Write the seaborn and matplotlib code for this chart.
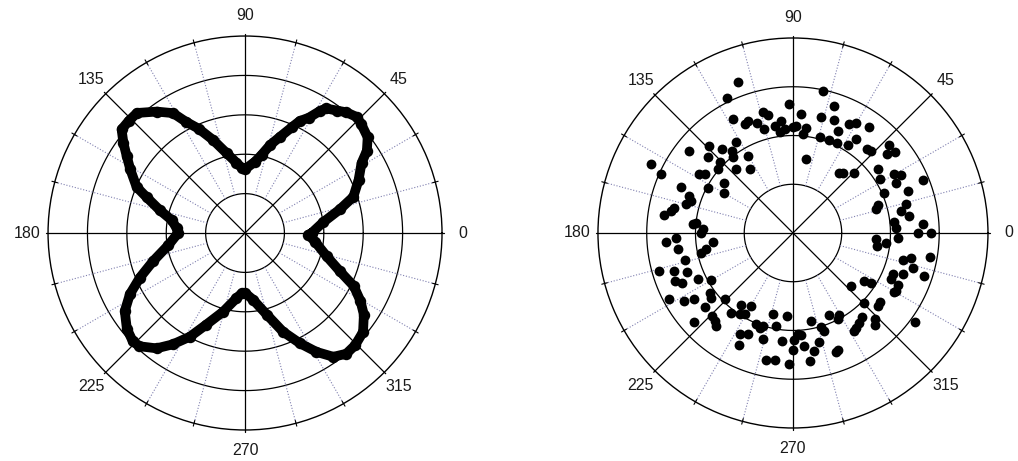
import numpy as np
import matplotlib
matplotlib.use("Agg")
import matplotlib.pyplot as plt
import seaborn as sns

# --- left panel: four-petal curve (angle in degrees, radius with rings at 1..5) ---
curve_deg = [
    0, 8, 14, 18.5, 25, 31, 34, 38, 43, 46, 50, 53, 57, 58.5, 61, 64, 66, 70, 74, 78, 82, 90,
    93, 97, 103, 109, 114, 118, 121, 126, 132, 136, 140, 143.5, 147, 151, 157, 160, 165, 170, 176, 180,
    189, 197, 203, 208, 213, 219, 224, 227, 232.5, 237, 242, 247, 254.5, 262.5, 267,
    270, 277, 285, 291, 296.5, 301, 305.5, 310, 314.5, 320, 325.5, 329.5, 334, 338, 344, 353, 358.5,
]
curve_r = [
    1.69, 2.01, 2.48, 2.90, 3.18, 3.45, 3.73, 3.95, 4.04, 4.09, 4.00, 3.89, 3.77, 3.63, 3.35, 3.16, 2.95, 2.60, 2.33, 2.03, 1.83, 1.62,
    1.66, 1.80, 2.08, 2.50, 2.90, 3.20, 3.55, 3.81, 4.10, 4.10, 4.09, 3.84, 3.58, 3.33, 2.99, 2.66, 2.24, 1.89, 1.74, 1.70,
    1.97, 2.44, 2.90, 3.31, 3.64, 3.86, 3.96, 3.93, 3.69, 3.37, 2.98, 2.53, 2.07, 1.67, 1.53,
    1.52, 1.71, 2.15, 2.68, 3.13, 3.52, 3.86, 4.00, 3.99, 3.91, 3.66, 3.40, 3.07, 2.60, 2.16, 1.79, 1.61,
]
curve_rings = [1, 2, 3, 4, 5]

# --- right panel: scattered points, x/y offsets from the pole (outer ring = 584) ---
dots_x = [
    # upper left
    -165, -197, -12, -90, -75, -180, -135, -145, -107, -88, -55, -35, -40, -25, 0,
    -170, -252, -312, -212, -182, -180, -255, -135, -220, -225, -425, -395, -280, -262, -172,
    -130, -208, -207, -255, -335, -310, -305, -320, -355, -365, -385, -300, -290, -270, -275,
    # upper right
    89, 124, 24, 84, 124, 9, 39, 29, 169, 189, 229, 136, 82, 109, 132, 189, 164, 221, 234, 289,
    282, 306, 39, 139, 149, 184, 256, 262, 302, 324, 309, 389, 274, 344, 339, 324, 346, 254, 249, 304,
    309, 389,
    # lower right
    314, 374, 414, 249, 252, 279, 409, 329, 354, 359, 329, 299, 294, 392, 212, 234, 174, 314, 309, 302,
    262, 254, 214, 364, 206, 199, 189, 184, 246, 246, 109, 139, 134, 54, 84, 94, 14, 24, 4, 79,
    34, -1, 62, 52, 134, 129, -13,
    # lower left
    -380, -350, -345, -240, -260, -275, -322, -400, -355, -352, -332, -318, -285, -245, -248, -245,
    -372, -325, -295, -262, -205, -185, -155, -125, -160, -145, -242, -235, -232, -295, -60, -17,
    -110, -100, -90, -50, -160, -135, -90, -162, -32, -80, -55,
]
dots_y = [
    # upper left
    451, 404, 386, 361, 353, 341, 336, 326, 329, 311, 321, 336, 301, 311, 316,
    273, 261, 246, 251, 246, 229, 229, 231, 213, 191, 208, 176, 176, 176, 193,
    191, 151, 121, 136, 138, 111, 96, 86, 76, 66, 53, 26, 31, 11, 1,
    # upper right
    426, 379, 356, 346, 339, 321, 313, 296, 326, 329, 318, 306, 288, 279, 271, 281, 264, 251, 246, 263,
    236, 243, 221, 181, 181, 179, 191, 163, 176, 173, 151, 158, 121, 126, 86, 66, 51, 83, 71, 33,
    16, 28,
    # lower right
    -14, 0, 0, -19, -39, -29, -72, -82, -76, -104, -122, -122, -139, -129, -144, -149, -159, -156, -174, -176,
    -206, -219, -209, -266, -252, -269, -284, -294, -259, -277, -246, -246, -259, -264, -282, -294, -304, -306, -319, -327,
    -339, -349, -354, -382, -349, -356, -393,
    # lower left
    -26, -14, -49, -26, -49, -59, -82, -114, -114, -144, -149, -116, -139, -142, -179, -194,
    -197, -204, -199, -222, -199, -239, -216, -220, -244, -242, -249, -264, -279, -267, -242, -249,
    -274, -284, -279, -279, -302, -302, -316, -334, -322, -379, -379,
]
dots_rings = [146, 292, 438, 584]

angle_labels = ["0", "45", "90", "135", "180", "225", "270", "315"]

DOTTED = "#8080b0"


def draw_frame(ax, rings):
    rmax = rings[-1]
    ax.set_ylim(0, rmax)
    ax.set_xticks([])
    ax.set_yticks([])
    ax.grid(False)
    ax.spines["polar"].set_color("black")
    ax.spines["polar"].set_linewidth(1.0)

    full = np.linspace(0, 2 * np.pi, 361)
    for r in rings[:-1]:
        ax.plot(full, np.full_like(full, r), color="black", lw=0.9, zorder=1)

    for deg in range(0, 360, 15):
        t = np.deg2rad(deg)
        if deg % 45 == 0:
            ax.plot([t, t], [0, rmax * 1.01], color="black", lw=0.9, zorder=1, clip_on=False)
        else:
            ax.plot([t, t], [rings[0], rmax], color=DOTTED, lw=0.8,
                    ls=(0, (1, 1.6)), zorder=1)
            ax.plot([t, t], [rmax * 0.985, rmax * 1.015], color="black", lw=0.8,
                    zorder=1, clip_on=False)

    for deg, lab in zip(range(0, 360, 45), angle_labels):
        ax.text(np.deg2rad(deg), rmax * 1.105, lab, ha="center", va="center",
                fontsize=11.5, color="#1a1a1a")


sns.set_style("white")
plt.rcParams["font.family"] = ["Liberation Sans", "DejaVu Sans"]

fig = plt.figure(figsize=(10.18, 4.61), dpi=100)
ax_left = fig.add_axes([0.0472, 0.0672, 0.387, 0.8547], projection="polar")
ax_right = fig.add_axes([0.5874, 0.0716, 0.3831, 0.846], projection="polar")

# left: dense dotted curve
draw_frame(ax_left, curve_rings)
theta_curve = np.deg2rad(curve_deg + [curve_deg[0] + 360])
r_curve = np.array(curve_r + [curve_r[0]])
sns.lineplot(x=theta_curve, y=r_curve, ax=ax_left, sort=False, estimator=None,
             color="black", lw=7.0, zorder=3)
sns.scatterplot(x=theta_curve, y=r_curve, ax=ax_left, color="black", s=68,
                linewidth=0, zorder=4)

# right: scattered points in a ring
draw_frame(ax_right, dots_rings)
dx = np.array(dots_x, dtype=float)
dy = np.array(dots_y, dtype=float)
sns.scatterplot(x=np.arctan2(dy, dx), y=np.hypot(dx, dy), ax=ax_right,
                color="black", s=50, linewidth=0, zorder=4)

for ax in (ax_left, ax_right):
    ax.set_xlabel("")
    ax.set_ylabel("")

fig.savefig("out.png", dpi=100)
